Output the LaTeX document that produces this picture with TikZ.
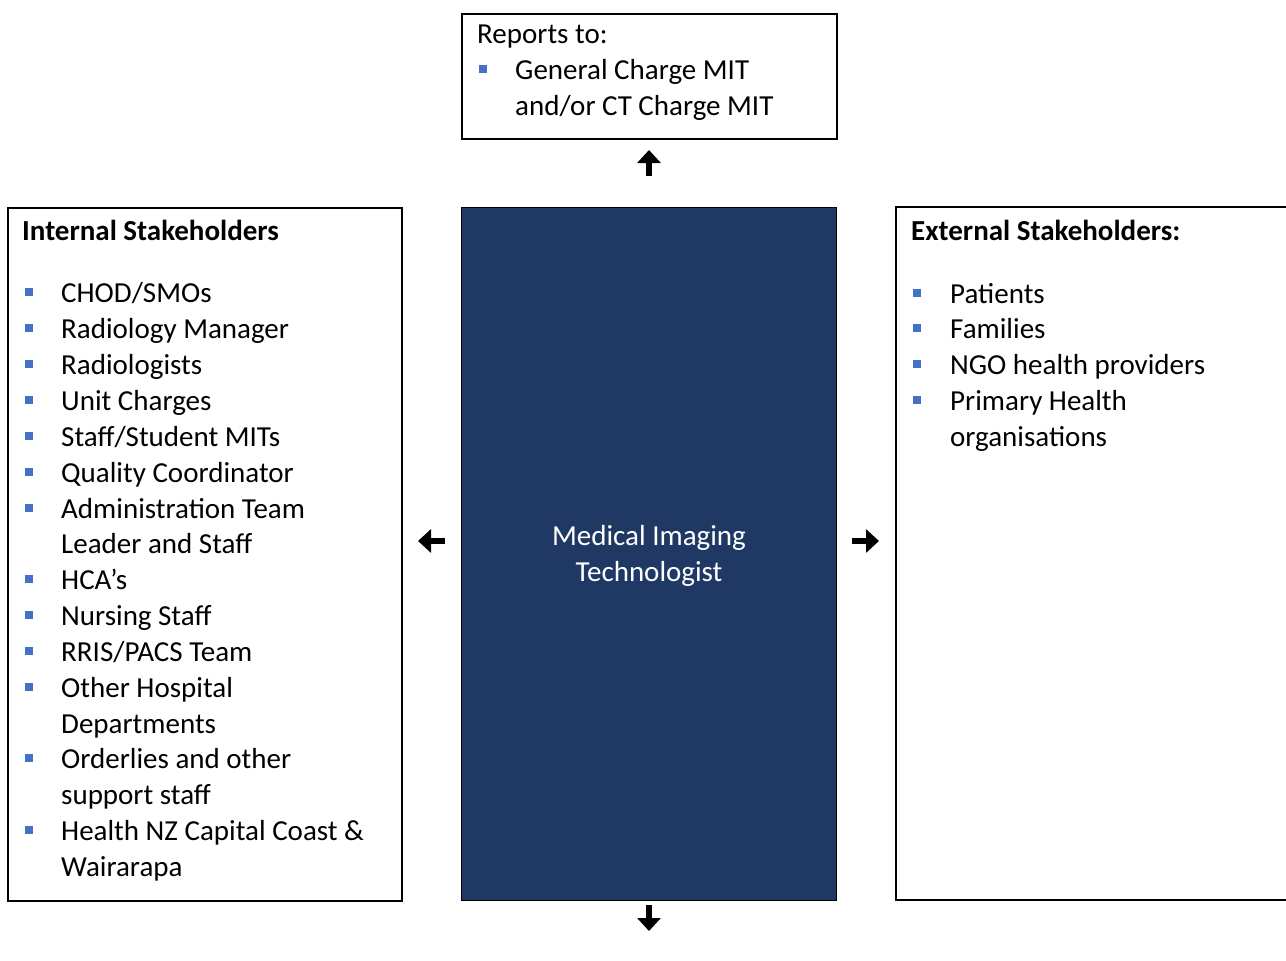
\documentclass[tikz,border=0pt]{standalone}
\usepackage{fontspec}
\setmainfont{Carlito}
\usetikzlibrary{arrows.meta}
\definecolor{navy}{HTML}{203864}
\definecolor{bulletblue}{HTML}{4472C4}
\tikzset{
  frame/.style={draw=black, line width=1.8pt},
  txt/.style={anchor=base west, inner sep=0pt, font=\fontsize{29}{36}\selectfont},
  hdr/.style={txt, font=\fontsize{29}{36}\selectfont\bfseries},
  bul/.style={fill=bulletblue, minimum size=8.5pt, inner sep=0pt, draw=none},
  bigarrow/.style={line width=6pt, -{Triangle[width=23pt,length=13pt]}}
}
% #1 name, #2 bullet x, #3 text x, #4 centre y, #5 text
\newcommand\mybul[5]{%
  \node[bul] (#1b) at (#2,#4) {};
  \node[txt] (#1) at (#3,#4+10) {#5};}
\newcommand\myline[4]{%
  \node[txt] (#1) at (#2,#3+10) {#4};}
\begin{document}
\begin{tikzpicture}[x=1pt,y=-1pt]
\useasboundingbox (0,0) rectangle (1286,961);
% boxes
\node[frame, minimum width=375pt, minimum height=125pt, anchor=north west, inner sep=0pt] (top) at (461,13) {};
\node[frame, minimum width=394pt, minimum height=693pt, anchor=north west, inner sep=0pt] (left) at (7,207) {};
\node[draw=black, line width=1.2pt, fill=navy, minimum width=375pt, minimum height=693pt, anchor=north west, inner sep=0pt] (mid) at (461,207) {};
\draw[line width=1.8pt] (1300,207) -- (896,207) -- (896,900) -- (1300,900);
\coordinate (right) at (896,207);
% top box text
\myline{rep}{477}{33}{Reports to:}
\mybul{t1}{483}{515}{69}{General Charge MIT}
\myline{t2}{515}{105}{and/or CT Charge MIT}
% centre
\node[text=white, font=\fontsize{29}{36}\selectfont, align=center] (role) at (649,556) {Medical Imaging\\Technologist};
% left list
\node[hdr] (lh) at (22,240) {Internal Stakeholders};
\mybul{l1}{29}{61}{292}{CHOD/SMOs}
\mybul{l2}{29}{61}{328}{Radiology Manager}
\mybul{l3}{29}{61}{364}{Radiologists}
\mybul{l4}{29}{61}{400}{Unit Charges}
\mybul{l5}{29}{61}{436}{Staff/Student MITs}
\mybul{l6}{29}{61}{472}{Quality Coordinator}
\mybul{l7}{29}{61}{508}{Administration Team}
\myline{l7a}{61}{543}{Leader and Staff}
\mybul{l8}{29}{61}{579}{HCA’s}
\mybul{l9}{29}{61}{615}{Nursing Staff}
\mybul{l10}{29}{61}{651}{RRIS/PACS Team}
\mybul{l11}{29}{61}{687}{Other Hospital}
\myline{l11a}{61}{723}{Departments}
\mybul{l12}{29}{61}{758}{Orderlies and other}
\myline{l12a}{61}{794}{support staff}
\mybul{l13}{29}{61}{830}{Health NZ Capital Coast \&}
\myline{l13a}{61}{866}{Wairarapa}
% right list
\node[hdr] (rh) at (911,240) {External Stakeholders:};
\mybul{r1}{917}{950}{293}{Patients}
\mybul{r2}{917}{950}{328}{Families}
\mybul{r3}{917}{950}{364}{NGO health providers}
\mybul{r4}{917}{950}{400}{Primary Health}
\myline{r4a}{950}{436}{organisations}
% arrows
\coordinate (au1) at (649,176); \coordinate (au2) at (649,150);
\coordinate (al1) at (445,541); \coordinate (al2) at (418,541);
\coordinate (ar1) at (852,541); \coordinate (ar2) at (879,541);
\coordinate (ad1) at (649,905); \coordinate (ad2) at (649,931);
\draw[bigarrow] (au1) -- (au2);
\draw[bigarrow] (al1) -- (al2);
\draw[bigarrow] (ar1) -- (ar2);
\draw[bigarrow] (ad1) -- (ad2);
\end{tikzpicture}
\end{document}
